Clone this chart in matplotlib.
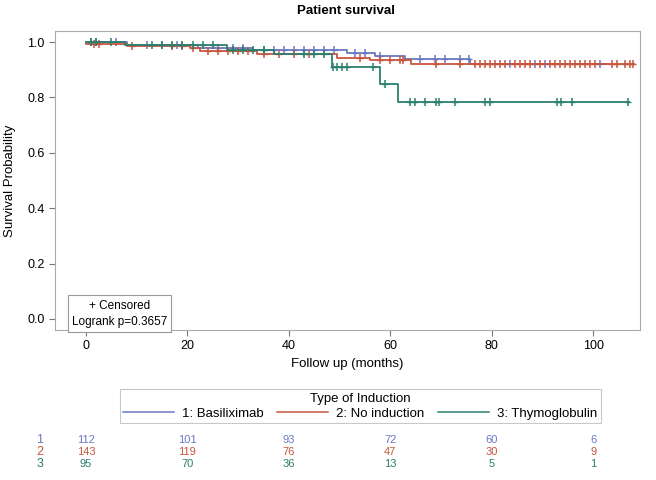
import matplotlib
matplotlib.use("Agg")
import matplotlib.pyplot as plt
import numpy as np
from matplotlib.lines import Line2D
import matplotlib.transforms as mtransforms

plt.rcParams['font.family'] = ['Liberation Sans', 'DejaVu Sans']

# step curves: event times (months) and survival after each event
groups = ["1: Basiliximab", "2: No induction", "3: Thymoglobulin"]
colors = ["#6b78c2", "#c8553d", "#2b7f6e"]

t_basi = [0, 8, 22, 33, 51.5, 57, 63, 75.7]
s_basi = [1.0, 0.99, 0.98, 0.972, 0.962, 0.95, 0.939, 0.921]
end_basi = 103

t_noind = [0, 8, 20.5, 22.5, 33.7, 49.5, 56, 64]
s_noind = [0.993, 0.987, 0.977, 0.969, 0.958, 0.943, 0.936, 0.919]
end_noind = 108

t_thymo = [0, 7.7, 27.8, 37, 48.5, 58, 61.5]
s_thymo = [1.0, 0.99, 0.97, 0.955, 0.91, 0.85, 0.785]
end_thymo = 107

cens_basi = [1, 2, 6, 12, 15, 18, 26, 29, 31, 35, 37, 39, 41, 43, 45, 47, 49,
             53, 55, 58, 65.9, 68.8, 70.8, 73.8, 75.5, 83.6, 88.6, 90.5, 101.4]
cens_noind = [1.5, 2.5, 9, 17, 19, 21, 24, 26, 28, 30, 32, 35, 38, 41, 44,
              54, 58, 60, 62, 62.5, 69, 73.8, 76.7, 77.7, 78.7, 79.7, 80.7,
              81.7, 82.6, 84.6, 85.6, 86.6, 87.6, 89.5, 91.5, 92.5, 93.5, 94.5,
              95.5, 96.5, 97.4, 98.4, 99.4, 100.4, 103.7, 104.7, 106.3, 107.3, 107.9]
cens_thymo = [1, 2, 5, 13, 15, 17, 19, 21, 23, 25, 29, 31, 33, 35, 43, 45, 47,
              48.7, 49.5, 50.5, 51.5, 56.6, 59, 63.9, 64.9, 66.9, 69.0, 69.7,
              72.8, 78.7, 79.7, 92.9, 93.7, 95.9, 106.9]

risk_times = [0, 20, 40, 60, 80, 100]
risk_rows = [[112, 101, 93, 72, 60, 6],
             [143, 119, 76, 47, 30, 9],
             [95, 70, 36, 13, 5, 1]]

series = [(t_basi, s_basi, end_basi, cens_basi),
          (t_noind, s_noind, end_noind, cens_noind),
          (t_thymo, s_thymo, end_thymo, cens_thymo)]


def surv_at(t, times, surv):
    idx = np.searchsorted(times, t, side="right") - 1
    return np.array(surv)[idx]


fig = plt.figure(figsize=(6.56, 4.8), dpi=100)
ax = fig.add_axes([0.084, 0.3125, 0.892, 0.623])

for (tt, ss, end, cens), col in zip(series, colors):
    x = list(tt) + [end]
    y = list(ss) + [ss[-1]]
    ax.step(x, y, where="post", color=col, lw=1.3)
    cy = surv_at(np.array(cens), tt, ss)
    ax.plot(cens, cy, ls="none", marker="|", ms=6, mew=1.1, color=col)
    ax.plot(cens, cy, ls="none", marker="_", ms=4, mew=1.0, color=col)

ax.set_xlim(-6.1, 109.3)
ax.set_ylim(-0.04, 1.04)
ax.set_xticks(risk_times)
ax.set_yticks([0.0, 0.2, 0.4, 0.6, 0.8, 1.0])
ax.set_yticklabels(["0.0", "0.2", "0.4", "0.6", "0.8", "1.0"])
ax.tick_params(labelsize=9, color="#777777", length=4)
for sp in ax.spines.values():
    sp.set_color("#aaaaaa")
ax.set_xlabel("Follow up (months)", fontsize=9.5, labelpad=4)
ax.set_ylabel("Survival Probability", fontsize=9.5, labelpad=8)
fig.text(0.527, 0.977, "Patient survival", ha="center", va="center",
         fontsize=9.5, fontweight="bold")

# inset box
ax.text(0.11, 0.055, "+ Censored\nLogrank p=0.3657", transform=ax.transAxes,
        ha="center", va="center", fontsize=8.5, linespacing=1.45,
        bbox=dict(boxstyle="square,pad=0.35", fc="white", ec="#999999", lw=0.8))

# legend
handles = [Line2D([0], [0], color=c, lw=1.1) for c in colors]
leg = fig.legend(handles, groups, loc="center", bbox_to_anchor=(0.549, 0.154),
                 ncol=3, fontsize=9.5, title="Type of Induction", title_fontsize=9.5,
                 frameon=True, fancybox=False, handlelength=3.9, columnspacing=1.0,
                 handletextpad=0.6, borderpad=0.25, labelspacing=0.2)
leg.get_frame().set_edgecolor("#bbbbbb")
leg.get_frame().set_linewidth(0.8)

# number at risk table, columns aligned with the x ticks
trans = mtransforms.blended_transform_factory(ax.transData, fig.transFigure)
row_y = [440, 452, 464]
for i, row in enumerate(risk_rows):
    fig.text(40 / 656, 1 - row_y[i] / 480, str(i + 1), color=colors[i],
             ha="center", va="center", fontsize=9)
    for xv, v in zip(risk_times, row):
        fig.text(xv, 1 - row_y[i] / 480, str(v), color=colors[i],
                 ha="center", va="center", fontsize=8, transform=trans)

fig.savefig("out.png", dpi=100)
